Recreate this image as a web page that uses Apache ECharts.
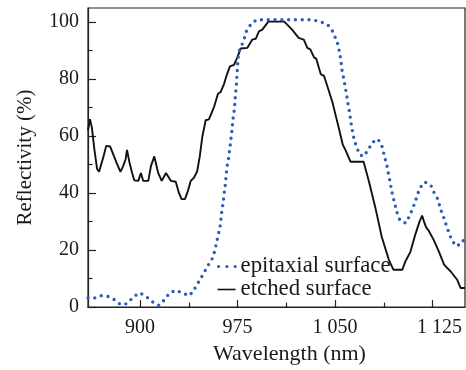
<!DOCTYPE html>
<html>
<head>
<meta charset="utf-8">
<script src="https://cdn.jsdelivr.net/npm/echarts@6/dist/echarts.min.js"></script>
<style>
html,body{margin:0;padding:0;background:#fff;}
#c{width:466px;height:370px;}
</style>
</head>
<body>
<div id="c"></div>
<script>
// ---- data ----
var xMajorTicks = [900, 975, 1050, 1125];
var xMinorTicks = [937.5, 1012.5, 1087.5];
var yMajorTicks = [0, 20, 40, 60, 80, 100];
var yMinorTicks = [10, 30, 50, 70, 90];
var seriesNames = ['epitaxial surface', 'etched surface'];

var epiWl = [860, 865, 870, 875, 880, 885, 890, 895, 899.5, 904, 909.5, 914.6, 918.5, 922.8, 927.7, 932.5, 937.7, 941.8,
  942.8, 945.4, 947.9, 950.5, 952.5, 954.4, 956.4, 957.7, 959, 960, 961.3, 962.1, 962.5, 963.3, 964.1, 964.6, 965.4, 965.9,
  966.4, 966.7, 967.9, 968.5, 969.2, 969.8, 970.5, 971, 971.5, 972.3, 972.8, 973.1, 973.6, 974.1, 974.4, 974.8, 975.2,
  975.6, 976.7, 978.7, 980.5, 982.1, 986, 990, 1030, 1035, 1040, 1045, 1048.5, 1050.5, 1052.5, 1054.4, 1055.6, 1057,
  1057.7, 1058.7, 1059.5, 1060.2, 1061.3, 1062, 1062.8, 1063.8, 1065, 1067, 1069, 1072, 1075.6, 1078.7, 1083, 1086, 1088,
  1090, 1091, 1092, 1093, 1094, 1095.4, 1096.7, 1098, 1100, 1104.4, 1107.5, 1109.5, 1111.5, 1113.3, 1115.4, 1119, 1123.6,
  1126, 1128.7, 1130.5, 1132, 1134, 1135.6, 1137.7, 1139.7, 1143, 1147.5, 1150];
var epiR = [3.2, 3.2, 4.0, 3.8, 2.7, 0.9, 1.2, 3.6, 5, 4, 1.9, 0.6, 2.4, 5, 5.9, 5, 4, 5.9,
  7.3, 9, 11, 13.1, 14.8, 15.9, 17.9, 20.2, 22.9, 25, 27.5, 29.8, 32.3, 34.8, 37.1, 39.6, 41.9, 44.3,
  46.6, 48.9, 51.4, 53.8, 56, 58.5, 61, 63.3, 65.9, 68.2, 70.5, 72.9, 75.2, 77.7, 80.3, 82.9, 85.9,
  88.1, 90.5, 92.4, 94.7, 97.2, 99.7, 100.9, 100.9, 100.6, 100, 98.8, 96.6, 94.3, 91.9, 87, 82.4, 79.8,
  77.5, 75.2, 72.9, 70.6, 68.3, 65.6, 63.3, 60.8, 58.3, 55.8, 53.5, 52.9, 55.2, 57.8, 59, 56.7, 53,
  49.5, 47.1, 44.8, 42.3, 40, 37.3, 35, 32.7, 30.4, 29.5, 32.1, 34.4, 36.7, 39.3, 41.9, 43.9, 42.9,
  40.4, 38.2, 35.6, 33.3, 31, 28.7, 26, 23.7, 21.4, 22.3, 24.6];

var etchWl = [860, 861.5, 863, 865, 867, 868.5, 870, 872, 874, 877, 879.5, 882, 885, 887, 889, 890, 892, 894, 895.6, 898.7,
  900.7, 902.5, 906.4, 908.4, 911, 914, 916.7, 920, 921.3, 923.8, 927.5, 930, 932, 934.6, 937, 939, 941.5, 944, 946, 948,
  950.5, 953, 957, 960, 962, 964.6, 967, 969.2, 972.3, 974.8, 977.5, 982.5, 986.4, 989, 991.5, 994.1, 998.7, 1011, 1017,
  1022, 1026, 1028.7, 1031, 1034, 1035.6, 1039, 1041.5, 1044, 1048, 1050.5, 1053, 1056, 1058, 1062, 1072, 1076, 1081, 1086,
  1091.5, 1095, 1101.8, 1104, 1108, 1112, 1115, 1117, 1118.5, 1120, 1121, 1122, 1126, 1130, 1134, 1139, 1144, 1146.7, 1150];
var etchR = [62, 66, 63, 55, 48.5, 47.5, 48, 53, 56.6, 56.4, 53.5, 50.6, 47.5, 49.5, 52, 55.2, 50.6, 47, 44.5, 44.3,
  47.1, 44.3, 44.3, 49.5, 52.9, 47.1, 44.3, 47.1, 46.8, 44.3, 44, 40, 37.9, 37.9, 41, 44.3, 45.4, 47.7, 53, 60,
  65.6, 65.9, 70.3, 74.9, 75.5, 78.3, 81.8, 84.5, 85, 87.6, 90.8, 91, 93.9, 94.2, 96.8, 97.4, 100.2, 100.2, 97.4,
  94.5, 93.9, 91, 90.5, 87.6, 87.2, 81.8, 81.2, 77.7, 72, 67.3, 62.7, 57, 55.2, 51, 51, 44.3, 35, 24.6,
  16.5, 13.1, 13.1, 15.9, 19.4, 25.8, 30, 32.1, 30, 28.1, 27.5, 26.9, 23.5, 19.4, 14.8, 12.5, 9.6, 6.7, 6.7];

function pairs(xs, ys) { return xs.map(function (x, i) { return [x, ys[i]]; }); }
function fmtThousands(v) {
  var s = String(Math.round(v));
  var t = s.length > 3 ? s.slice(0, s.length - 3) + ' ' + s.slice(s.length - 3) : s;
  return v === xMajorTicks[xMajorTicks.length - 1] ? '{last|' + t + '}' : t;
}

var FONT = '"Liberation Serif", "DejaVu Serif", serif';
var TXT = '#1a1a1a';
var BLUE = '#2d5db5';

var chart = echarts.init(document.getElementById('c'), null, { renderer: 'canvas' });
chart.setOption({
  animation: false,
  backgroundColor: '#fff',
  grid: { left: 88, right: 1, top: 8, bottom: 59, show: true, borderColor: '#222', borderWidth: 1.2, containLabel: false },
  legend: {
    data: [
      { name: seriesNames[0], lineStyle: { width: 3.2, type: [0, 8.3], dashOffset: -1, cap: 'round' } },
      { name: seriesNames[1], lineStyle: { width: 1.6 } }
    ],
    orient: 'vertical',
    left: 216, top: 255,
    itemWidth: 18, itemHeight: 14, itemGap: 0,
    itemStyle: { opacity: 0 },
    textStyle: { fontFamily: FONT, fontSize: 22.8, color: TXT, lineHeight: 21.7 },
    padding: 0
  },
  xAxis: [{
    type: 'value', min: 860, max: 1150, position: 'bottom',
    axisLine: { show: true, lineStyle: { color: '#222', width: 1.2 } },
    axisTick: { show: true, inside: true, length: 7, customValues: xMajorTicks, lineStyle: { color: '#222', width: 1.2 } },
    axisLabel: {
      customValues: xMajorTicks, formatter: fmtThousands, fontFamily: FONT, fontSize: 20, color: TXT, margin: 11,
      rich: { last: { fontFamily: FONT, fontSize: 20, color: TXT, padding: [0, 0, 0, 14] } }
    },
    splitLine: { show: false },
    name: 'Wavelength (nm)', nameLocation: 'middle', nameGap: 33,
    nameTextStyle: { fontFamily: FONT, fontSize: 22, color: TXT, padding: [0, 0, 0, 26] }
  }, {
    type: 'value', min: 860, max: 1150, position: 'bottom', gridIndex: 0,
    axisLine: { show: false },
    axisTick: { show: true, inside: true, length: 4.5, customValues: xMinorTicks, lineStyle: { color: '#222', width: 1.2 } },
    axisLabel: { show: false },
    splitLine: { show: false }
  }],
  yAxis: [{
    type: 'value', min: 0, max: 105, position: 'left',
    axisLine: { show: true, lineStyle: { color: '#222', width: 1.2 } },
    axisTick: { show: true, inside: true, length: 8, customValues: yMajorTicks, lineStyle: { color: '#222', width: 1.2 } },
    axisLabel: { customValues: yMajorTicks, fontFamily: FONT, fontSize: 20, color: TXT, margin: 9 },
    splitLine: { show: false },
    name: 'Reflectivity (%)', nameLocation: 'middle', nameGap: 52,
    nameTextStyle: { fontFamily: FONT, fontSize: 21, color: TXT }
  }, {
    type: 'value', min: 0, max: 105, position: 'left', gridIndex: 0,
    axisLine: { show: false },
    axisTick: { show: true, inside: true, length: 4.5, customValues: yMinorTicks, lineStyle: { color: '#222', width: 1.2 } },
    axisLabel: { show: false },
    splitLine: { show: false }
  }],
  series: [{
    name: seriesNames[0], type: 'line', xAxisIndex: 0, yAxisIndex: 0,
    data: pairs(epiWl, epiR), showSymbol: false, symbol: 'none', smooth: false,
    lineStyle: { color: BLUE, width: 3.4, type: [0, 6.8], cap: 'round', join: 'round' },
    itemStyle: { color: BLUE }, z: 3
  }, {
    name: seriesNames[1], type: 'line', xAxisIndex: 0, yAxisIndex: 0,
    data: pairs(etchWl, etchR), showSymbol: false, symbol: 'none', smooth: false,
    lineStyle: { color: '#111', width: 1.9 },
    itemStyle: { color: '#111' }, z: 2
  }]
});
</script>
</body>
</html>
